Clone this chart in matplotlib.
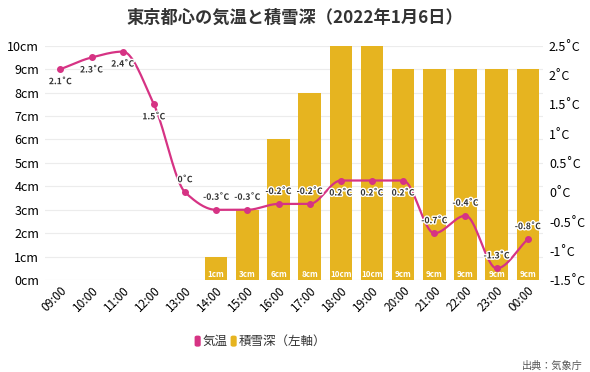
import numpy as np
import matplotlib.pyplot as plt
import matplotlib.patheffects as pe
from matplotlib.patches import FancyBboxPatch

plt.rcParams['font.family'] = ['Noto Sans CJK JP', 'DejaVu Sans']

# データ
hours = ["09:00", "10:00", "11:00", "12:00", "13:00", "14:00", "15:00", "16:00",
         "17:00", "18:00", "19:00", "20:00", "21:00", "22:00", "23:00", "00:00"]
temp = [2.1, 2.3, 2.4, 1.5, 0, -0.3, -0.3, -0.2, -0.2, 0.2, 0.2, 0.2, -0.7, -0.4, -1.3, -0.8]
snow = [0, 0, 0, 0, 0, 1, 3, 6, 8, 10, 10, 9, 9, 9, 9, 9]
# ラベルを点の下に置くかどうか
label_below = [True, True, True, True, False, False, False, False, False,
               True, True, True, False, False, False, False]

pink = '#d63384'
gold = '#e6b420'


def monotone_curve(y, n=30):
    # Fritsch-Carlson の単調3次補間で線を滑らかにする
    y = np.asarray(y, dtype=float)
    x = np.arange(len(y))
    d = np.diff(y)
    m = np.zeros(len(y))
    m[0], m[-1] = d[0], d[-1]
    for i in range(1, len(y) - 1):
        if d[i - 1] * d[i] <= 0:
            m[i] = 0
        else:
            m[i] = 2 / (1 / d[i - 1] + 1 / d[i])
    xs, ys = [], []
    for i in range(len(y) - 1):
        t = np.linspace(0, 1, n)
        h00 = 2 * t**3 - 3 * t**2 + 1
        h10 = t**3 - 2 * t**2 + t
        h01 = -2 * t**3 + 3 * t**2
        h11 = t**3 - t**2
        xs.extend(x[i] + t)
        ys.extend(h00 * y[i] + h10 * m[i] + h01 * y[i + 1] + h11 * m[i + 1])
    return np.array(xs), np.array(ys)


fig = plt.figure(figsize=(5.9, 3.72), dpi=100)
ax = fig.add_axes([0.076, 0.247, 0.845, 0.63])
ax2 = ax.twinx()

x = np.arange(len(hours))
bars = ax.bar(x, snow, width=0.72, color=gold, zorder=2)
for xi, s in zip(x, snow):
    if s > 0:
        ax.text(xi, 0.25, f"{s}cm", ha='center', va='center', color='white',
                fontsize=5.8, fontweight='bold', zorder=3)

ax.set_ylim(0, 10)
ax.set_yticks(range(0, 11))
ax.set_yticklabels([f"{v}cm" for v in range(0, 11)])
ax.set_xlim(-0.5, len(hours) - 0.5)
ax.set_xticks(x)
ax.set_xticklabels(hours, rotation=45, ha='right', rotation_mode='anchor')
ax.grid(axis='y', color='#ececec', linewidth=0.8, zorder=0)
ax.set_axisbelow(True)
ax.tick_params(axis='y', length=0, labelsize=9, pad=4)
ax.tick_params(axis='x', length=0, labelsize=8.5, pad=3)

ax2.set_ylim(-1.5, 2.5)
ax2.set_yticks(np.arange(-1.5, 2.51, 0.5))
ax2.set_yticklabels([f"{v:g}˚C" for v in np.arange(-1.5, 2.51, 0.5)])
ax2.tick_params(axis='y', length=0, labelsize=9, pad=4)

for a in (ax, ax2):
    for sp in a.spines.values():
        sp.set_visible(False)

cx, cy = monotone_curve(temp)
ax2.plot(cx, cy, color=pink, linewidth=1.6, zorder=4)
ax2.scatter(x, temp, color=pink, s=16, zorder=5)
for xi, t, below in zip(x, temp, label_below):
    off = -9 if below else 9
    ax2.annotate(f"{t:g}˚C", (xi, t), xytext=(0, off), textcoords='offset points',
                 ha='center', va='center', fontsize=6.2, fontweight='bold',
                 color='#333333', zorder=6,
                 path_effects=[pe.withStroke(linewidth=2, foreground='white')])

fig.text(0.5, 0.952, "東京都心の気温と積雪深（2022年1月6日）", ha='center', va='center',
         fontsize=12.4, fontweight='bold', color='#333333')

# 凡例
for x0, col in [(0.331, pink), (0.392, gold)]:
    fig.patches.append(FancyBboxPatch((x0, 0.07), 0.008, 0.026,
                                      boxstyle="round,pad=0,rounding_size=0.003",
                                      transform=fig.transFigure, color=col, figure=fig))
fig.text(0.344, 0.083, "気温", ha='left', va='center', fontsize=9, color='#333333')
fig.text(0.405, 0.083, "積雪深（左軸）", ha='left', va='center', fontsize=9, color='#333333')

fig.text(0.988, 0.004, "出典：気象庁", ha='right', va='bottom', fontsize=7.3, color='#555555')

fig.savefig("out.png", dpi=100)
